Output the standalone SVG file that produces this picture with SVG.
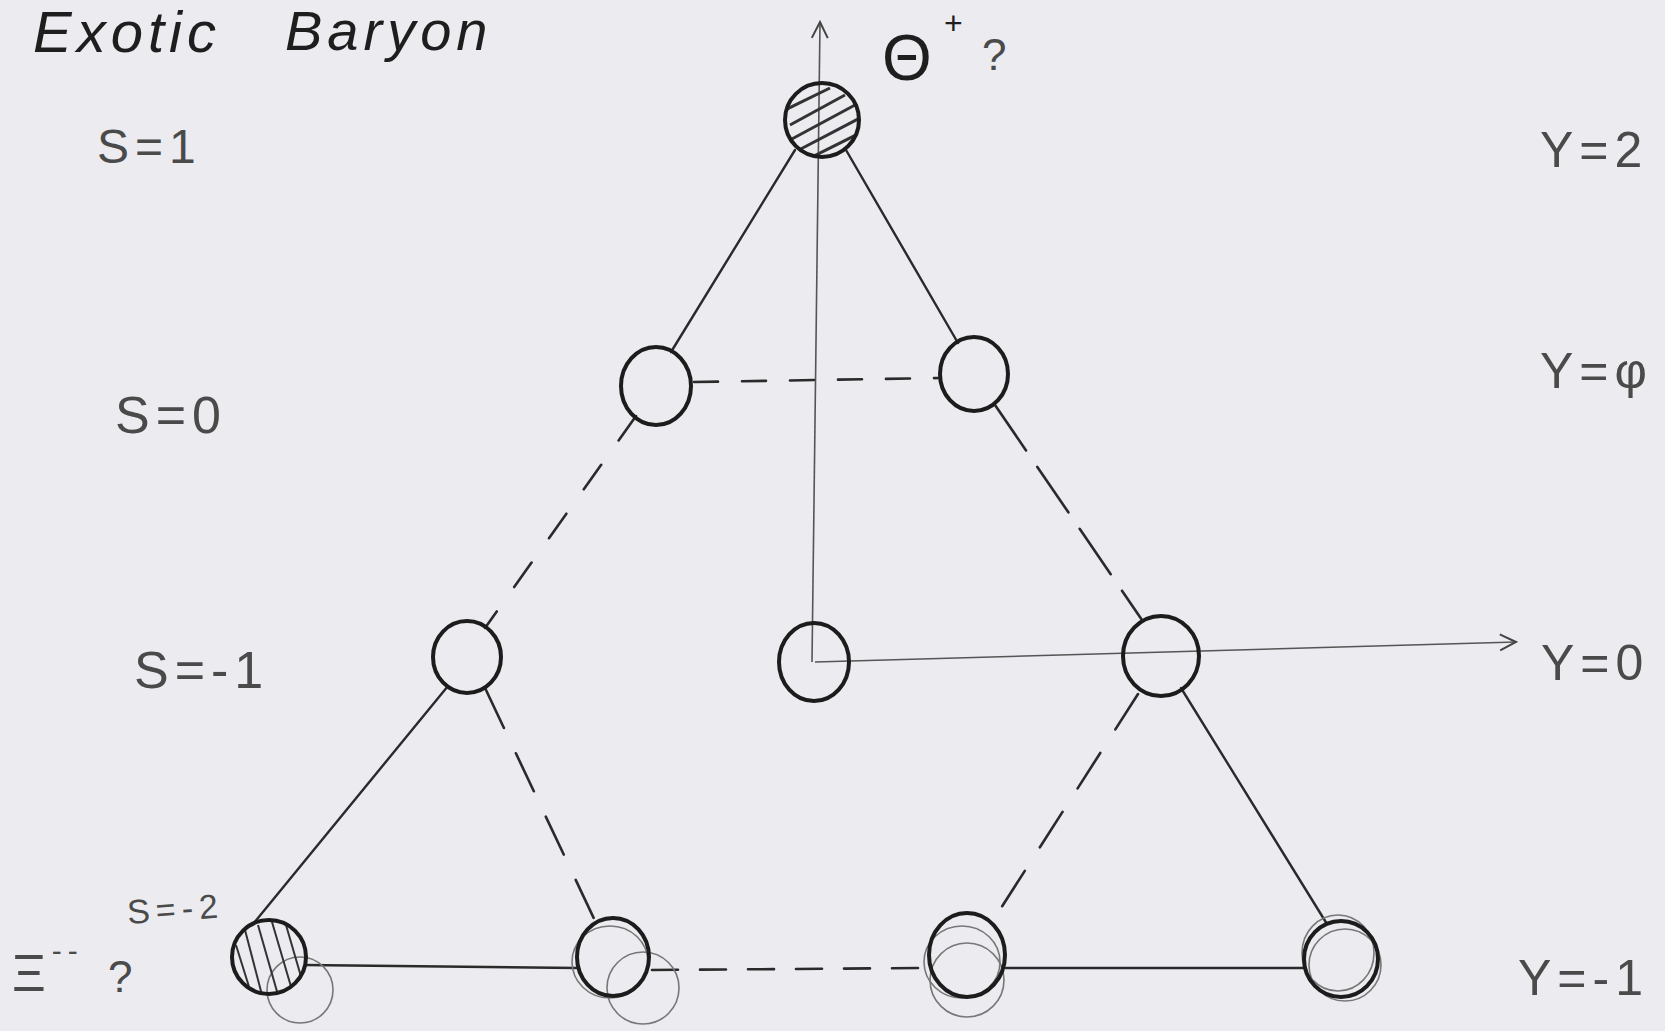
<svg xmlns="http://www.w3.org/2000/svg" width="1665" height="1031" viewBox="0 0 1665 1031">
<style>
.node{fill:none;stroke:#1c1c1c;stroke-width:4}
.ghost{fill:none;stroke:#777;stroke-width:1.6}
.solid{stroke:#2a2a2a;stroke-width:2.4;fill:none;stroke-linecap:round}
.dash{stroke:#2a2a2a;stroke-width:2.6;fill:none;stroke-dasharray:26 26;stroke-linecap:round}
.axis{stroke:#555;stroke-width:1.6;fill:none}
.lbl{font-family:"Liberation Sans",Arial,sans-serif;fill:#4a4a4a;letter-spacing:6px}
.title{font-family:"Liberation Sans",Arial,sans-serif;font-style:italic;fill:#1e1e1e;letter-spacing:5px}
.hatch{stroke:#333;stroke-width:3}
</style>
<defs>
<marker id="openArrow" viewBox="0 0 20 20" refX="18" refY="10" markerWidth="20" markerHeight="20" markerUnits="userSpaceOnUse" orient="auto">
<path d="M2,2 L18,10 L2,18" fill="none" stroke="#444" stroke-width="2"/>
</marker>
<clipPath id="clipTop"><circle cx="822" cy="120" r="36"/></clipPath>
<clipPath id="clipBL"><circle cx="269" cy="957" r="36"/></clipPath>
</defs>
<rect x="0" y="0" width="1665" height="1031" fill="#ebebf0"/>

<!-- titles and labels -->
<g id="labels">
<text class="title" x="33" y="52" font-size="58">Exotic</text>
<text class="title" x="285" y="50" font-size="56">Baryon</text>
<text class="lbl" x="97" y="163" font-size="48">S=1</text>
<text class="lbl" x="115" y="433" font-size="52">S=0</text>
<text class="lbl" x="134" y="688" font-size="52">S=-1</text>
<text class="lbl" x="128" y="924" font-size="34" transform="rotate(-4 128 924)">S=-2</text>
<text class="lbl" x="12" y="991" font-size="52" fill="#2a2a2a">Ξ<tspan font-size="30" dy="-30">--</tspan></text>
<text class="lbl" x="108" y="992" font-size="44">?</text>
<text class="lbl" x="882" y="80" font-size="64" style="fill:#1e1e1e;letter-spacing:0">Θ</text>
<text class="lbl" x="944" y="34" font-size="32" style="fill:#1e1e1e;letter-spacing:0">+</text>
<text class="lbl" x="982" y="70" font-size="44" style="letter-spacing:0">?</text>
<text class="lbl" x="1540" y="167" font-size="50">Y=2</text>
<text class="lbl" x="1540" y="388" font-size="50">Y=φ</text>
<text class="lbl" x="1541" y="680" font-size="50">Y=0</text>
<text class="lbl" x="1518" y="995" font-size="50">Y=-1</text>
</g>

<!-- connectors -->
<g id="connectors">
<line class="axis" x1="812" y1="662" x2="820" y2="22" marker-end="url(#openArrow)"/>
<line class="axis" x1="815" y1="662" x2="1516" y2="642" marker-end="url(#openArrow)"/>
<line class="solid" x1="795" y1="150" x2="671" y2="352"/>
<line class="solid" x1="846" y1="150" x2="958" y2="343"/>
<line class="dash" x1="636" y1="416" x2="485" y2="628" style="stroke-dasharray:30 30"/>
<line class="dash" x1="995" y1="405" x2="1142" y2="620" style="stroke-dasharray:55 20"/>
<line class="solid" x1="448" y1="686" x2="253" y2="924"/>
<line class="solid" x1="1181" y1="688" x2="1327" y2="924"/>
<line class="dash" x1="486" y1="690" x2="597" y2="925" style="stroke-dasharray:42 28"/>
<line class="dash" x1="1138" y1="694" x2="994" y2="919" style="stroke-dasharray:42 28"/>
<line class="dash" x1="694" y1="382" x2="940" y2="378" style="stroke-dasharray:24 24"/>
<line class="solid" x1="305" y1="965" x2="578" y2="968"/>
<line class="dash" x1="652" y1="970" x2="928" y2="968" style="stroke-dasharray:26 22"/>
<line class="solid" x1="1006" y1="968" x2="1304" y2="968"/>
</g>

<!-- nodes -->
<g id="theta-plus">
<g clip-path="url(#clipTop)">
<line class="hatch" x1="790" y1="125" x2="845" y2="95"/>
<line class="hatch" x1="790" y1="140" x2="855" y2="105"/>
<line class="hatch" x1="795" y1="152" x2="860" y2="118"/>
<line class="hatch" x1="810" y1="158" x2="862" y2="132"/>
<line class="hatch" x1="785" y1="110" x2="830" y2="88"/>
</g>
<circle class="node" cx="822" cy="120" r="37"/>
</g>
<g id="n-y1-left"><ellipse class="node" cx="656" cy="386" rx="35" ry="39"/></g>
<g id="n-y1-right"><ellipse class="node" cx="974" cy="374" rx="34" ry="37"/></g>
<g id="n-y0-left"><ellipse class="node" cx="467" cy="657" rx="34" ry="36"/></g>
<g id="n-y0-center"><ellipse class="node" cx="814" cy="662" rx="35" ry="39"/></g>
<g id="n-y0-right"><ellipse class="node" cx="1161" cy="656" rx="38" ry="40"/></g>
<g id="xi-minus-minus">
<circle class="ghost" cx="300" cy="990" r="33"/>
<g clip-path="url(#clipBL)">
<line class="hatch" x1="245" y1="930" x2="262" y2="995" style="stroke-width:2"/>
<line class="hatch" x1="258" y1="925" x2="278" y2="995" style="stroke-width:2"/>
<line class="hatch" x1="272" y1="922" x2="292" y2="990" style="stroke-width:2"/>
<line class="hatch" x1="286" y1="925" x2="302" y2="980" style="stroke-width:2"/>
<line class="hatch" x1="236" y1="945" x2="250" y2="990" style="stroke-width:2"/>
</g>
<circle class="node" cx="269" cy="957" r="37"/>
</g>
<g id="n-ym1-2">
<circle class="ghost" cx="643" cy="988" r="36"/>
<ellipse class="ghost" cx="610" cy="962" rx="38" ry="36"/>
<ellipse class="node" cx="613" cy="957" rx="36" ry="39"/>
</g>
<g id="n-ym1-3">
<ellipse class="ghost" cx="967" cy="980" rx="37" ry="37"/>
<ellipse class="ghost" cx="962" cy="962" rx="38" ry="36"/>
<ellipse class="node" cx="967" cy="955" rx="38" ry="42"/>
</g>
<g id="n-ym1-4">
<ellipse class="ghost" cx="1345" cy="965" rx="36" ry="36"/>
<ellipse class="ghost" cx="1338" cy="953" rx="36" ry="38"/>
<ellipse class="node" cx="1341" cy="959" rx="37" ry="38"/>
</g>
</svg>
